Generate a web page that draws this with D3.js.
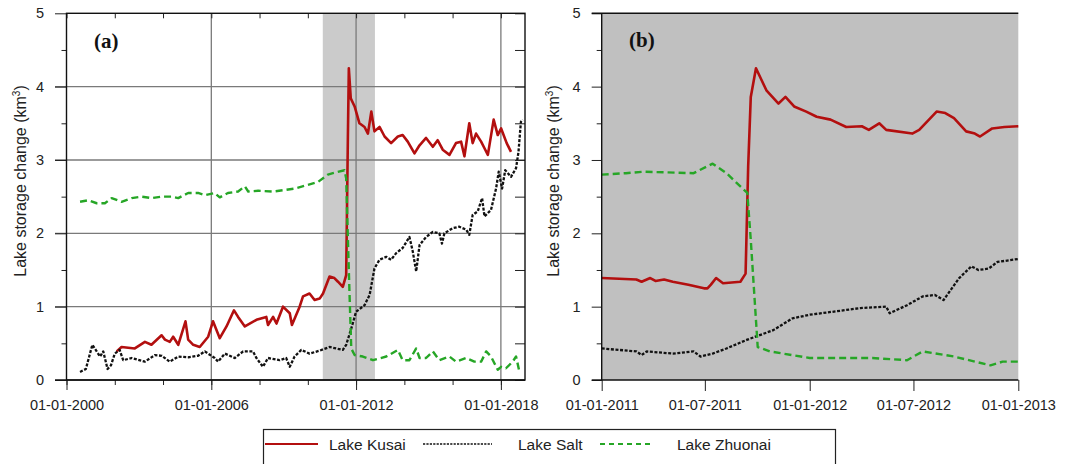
<html>
<head>
<meta charset="utf-8">
<title>Lake storage change</title>
<style>
  body { margin: 0; padding: 0; background: #ffffff; font-family: "Liberation Sans", Arial, sans-serif; }
  .tick text { font-size: 14.5px; fill: #222; font-family: "Liberation Sans", Arial, sans-serif; }
  .tick line { stroke: #222; }
  .ytitle { font-size: 16px; fill: #222; }
  .plabel { font-family: "Liberation Serif", "Times New Roman", serif; font-weight: bold; font-size: 21px; fill: #111; }
  .legend text { font-size: 15.5px; fill: #222; }
</style>
</head>
<body>
<svg id="chart" width="1077" height="464"></svg>
<script src="https://cdnjs.cloudflare.com/ajax/libs/d3/7.8.5/d3.min.js"></script>
<script>
// ---- data (decimal year, km3) ----
var kusaiA = [[2002.08,0.39],[2002.28,0.45],[2002.83,0.43],[2003.25,0.52],[2003.52,0.48],[2003.94,0.61],[2004.08,0.55],[2004.28,0.52],[2004.42,0.59],[2004.63,0.48],[2004.93,0.80],[2005.04,0.55],[2005.25,0.48],[2005.52,0.45],[2005.87,0.59],[2006.07,0.80],[2006.35,0.57],[2006.63,0.73],[2006.94,0.95],[2007.11,0.86],[2007.39,0.73],[2007.87,0.82],[2008.28,0.86],[2008.35,0.75],[2008.56,0.86],[2008.70,0.77],[2008.97,1.00],[2009.25,0.91],[2009.34,0.75],[2009.66,1.00],[2009.80,1.14],[2010.07,1.18],[2010.28,1.09],[2010.49,1.11],[2010.63,1.18],[2010.90,1.41],[2011.10,1.39],[2011.25,1.34],[2011.45,1.27],[2011.59,1.43],[2011.66,3.30],[2011.70,4.25],[2011.78,3.84],[2011.94,3.73],[2012.14,3.50],[2012.35,3.45],[2012.49,3.36],[2012.63,3.66],[2012.76,3.39],[2012.97,3.45],[2013.18,3.32],[2013.45,3.23],[2013.73,3.32],[2013.93,3.34],[2014.14,3.25],[2014.42,3.09],[2014.63,3.20],[2014.90,3.30],[2015.18,3.18],[2015.38,3.27],[2015.59,3.14],[2015.87,3.07],[2016.14,3.23],[2016.35,3.25],[2016.49,3.05],[2016.69,3.50],[2016.83,3.23],[2016.97,3.36],[2017.18,3.25],[2017.32,3.16],[2017.46,3.07],[2017.70,3.55],[2017.87,3.34],[2018.01,3.43],[2018.24,3.23],[2018.42,3.11]];

var saltA = [[2000.56,0.11],[2000.80,0.15],[2001.07,0.48],[2001.25,0.39],[2001.39,0.32],[2001.52,0.39],[2001.70,0.15],[2001.84,0.20],[2002.00,0.36],[2002.20,0.41],[2002.35,0.27],[2002.70,0.30],[2003.25,0.25],[2003.66,0.34],[2003.95,0.33],[2004.28,0.25],[2004.63,0.32],[2005.05,0.31],[2005.45,0.33],[2005.73,0.39],[2006.14,0.30],[2006.28,0.25],[2006.56,0.36],[2006.97,0.30],[2007.32,0.39],[2007.73,0.39],[2007.87,0.30],[2008.14,0.18],[2008.35,0.30],[2008.83,0.27],[2009.10,0.30],[2009.25,0.18],[2009.45,0.32],[2009.73,0.41],[2010.07,0.36],[2010.49,0.40],[2010.90,0.45],[2011.45,0.41],[2011.59,0.48],[2011.80,0.70],[2012.00,0.93],[2012.35,1.02],[2012.56,1.16],[2012.76,1.52],[2012.97,1.64],[2013.25,1.68],[2013.45,1.64],[2013.66,1.73],[2013.93,1.80],[2014.21,1.95],[2014.35,1.75],[2014.49,1.48],[2014.63,1.84],[2014.90,1.95],[2015.18,2.02],[2015.45,2.00],[2015.56,1.86],[2015.66,2.00],[2016.00,2.07],[2016.28,2.09],[2016.56,2.05],[2016.69,1.98],[2016.83,2.25],[2017.04,2.30],[2017.22,2.48],[2017.32,2.23],[2017.59,2.32],[2017.80,2.61],[2017.91,2.84],[2018.05,2.61],[2018.18,2.86],[2018.42,2.77],[2018.63,2.89],[2018.73,3.11],[2018.83,3.52],[2018.90,3.55]];

var zhuonaiA = [[2000.56,2.43],[2000.90,2.45],[2001.25,2.41],[2001.59,2.41],[2001.87,2.48],[2002.28,2.43],[2002.70,2.48],[2003.11,2.50],[2003.52,2.48],[2003.94,2.50],[2004.35,2.50],[2004.63,2.48],[2005.04,2.55],[2005.45,2.55],[2005.73,2.52],[2006.14,2.55],[2006.35,2.49],[2006.69,2.55],[2007.11,2.57],[2007.39,2.64],[2007.53,2.57],[2007.94,2.58],[2008.56,2.57],[2009.04,2.59],[2009.45,2.61],[2010.00,2.66],[2010.42,2.70],[2010.83,2.80],[2011.04,2.82],[2011.52,2.86],[2011.59,2.75],[2011.66,1.93],[2011.73,1.16],[2011.80,0.43],[2011.94,0.34],[2012.28,0.32],[2012.70,0.27],[2013.25,0.32],[2013.73,0.41],[2013.93,0.27],[2014.21,0.27],[2014.49,0.43],[2014.63,0.30],[2014.90,0.30],[2015.18,0.39],[2015.45,0.27],[2015.87,0.32],[2016.14,0.25],[2016.56,0.30],[2016.90,0.25],[2017.18,0.25],[2017.39,0.39],[2017.59,0.32],[2017.87,0.14],[2018.01,0.18],[2018.21,0.16],[2018.49,0.25],[2018.63,0.32],[2018.77,0.11]];

// panel (b): months after 01-01-2011, km3
var kusaiB = [[0,1.39],[2.0,1.37],[2.3,1.34],[2.8,1.39],[3.1,1.35],[3.6,1.37],[4.1,1.34],[5.0,1.30],[5.9,1.25],[6.1,1.25],[6.3,1.30],[6.6,1.39],[7.0,1.32],[8.0,1.34],[8.3,1.45],[8.45,2.91],[8.6,3.86],[8.9,4.25],[9.5,3.95],[10.2,3.77],[10.6,3.86],[11.1,3.73],[11.8,3.66],[12.4,3.59],[13.2,3.55],[14.1,3.45],[15.0,3.46],[15.4,3.41],[16.0,3.50],[16.4,3.41],[17.9,3.36],[18.3,3.41],[19.3,3.66],[19.8,3.64],[20.3,3.57],[21.0,3.39],[21.5,3.36],[21.8,3.32],[22.5,3.43],[23.2,3.45],[24,3.46]];
var saltB = [[0,0.43],[2.0,0.39],[2.3,0.34],[2.6,0.39],[4.1,0.36],[5.3,0.39],[5.7,0.32],[6.4,0.36],[7.2,0.43],[8.4,0.55],[9.9,0.68],[11.0,0.84],[12.0,0.89],[13.3,0.93],[14.9,0.98],[16.4,1.00],[16.6,0.91],[17.6,1.02],[18.5,1.14],[19.2,1.16],[19.7,1.09],[20.6,1.39],[21.3,1.55],[21.7,1.50],[22.3,1.52],[22.8,1.61],[24,1.65]];
var zhuonaiB = [[0,2.80],[1.4,2.82],[2.4,2.84],[5.3,2.82],[6.4,2.95],[7.2,2.82],[8.4,2.55],[8.6,1.91],[9.0,0.45],[9.7,0.39],[12.0,0.30],[15.6,0.30],[17.6,0.27],[18.5,0.39],[20.3,0.32],[22.4,0.20],[23.1,0.25],[24,0.25]];

var bandA = [2010.62, 2012.78];   // shaded period in (a)
var yMajor = [0, 1, 2, 3, 4, 5];
var yMinor = [0.5, 1.5, 2.5, 3.5, 4.5];
var seriesNames = ["Lake Kusai", "Lake Salt", "Lake Zhuonai"];

// ---- helpers ----
function yearToDate(y) {
  var yr = Math.floor(y), s = new Date(yr, 0, 1), e = new Date(yr + 1, 0, 1);
  return new Date(+s + (y - yr) * (e - s));
}
function monthToDate(m) { return yearToDate(2011 + m / 12); }

var styles = [
  { color: "#b30f0f", dash: null, width: 2.6 },
  { color: "#111111", dash: "3,1.6", width: 2.3 },
  { color: "#26a626", dash: "7,4", width: 2.4 }
];

var svg = d3.select("#chart");
var fmt = d3.timeFormat("%d-%m-%Y");

// ================= panel (a) =================
var xa = d3.scaleTime().domain([new Date(2000, 0, 1), new Date(2019, 0, 1)]).range([66.5, 525]);
var ya = d3.scaleLinear().domain([0, 5]).range([380, 13.3]);
var ga = svg.append("g");

ga.append("rect")
  .attr("x", xa(yearToDate(bandA[0]))).attr("y", ya(5))
  .attr("width", xa(yearToDate(bandA[1])) - xa(yearToDate(bandA[0])))
  .attr("height", ya(0) - ya(5))
  .attr("fill", "#cbcbcb");

// grid
ga.selectAll(".hg").data([1, 2, 3, 4]).enter().append("line")
  .attr("x1", 55).attr("x2", 525).attr("y1", d => ya(d)).attr("y2", d => ya(d))
  .attr("stroke", "#7a7a7a").attr("stroke-width", 1.3);
ga.selectAll(".vg").data([2006, 2012, 2018]).enter().append("line")
  .attr("x1", d => xa(new Date(d, 0, 1))).attr("x2", d => xa(new Date(d, 0, 1)))
  .attr("y1", ya(5)).attr("y2", ya(0))
  .attr("stroke", "#7a7a7a").attr("stroke-width", 1.3);

function drawLines(g, x, y, sets, toDate) {
  sets.forEach(function (data, i) {
    var st = styles[i];
    g.append("path")
      .datum(data)
      .attr("fill", "none")
      .attr("stroke", st.color)
      .attr("stroke-width", st.width)
      .attr("stroke-dasharray", st.dash)
      .attr("stroke-linejoin", "round")
      .attr("d", d3.line().x(d => x(toDate(d[0]))).y(d => y(d[1])));
  });
}
drawLines(ga, xa, ya, [kusaiA, saltA, zhuonaiA], yearToDate);

// axes
var yrs2 = d3.range(2000, 2019, 2).map(y => new Date(y, 0, 1));
var yrs6 = [2000, 2006, 2012, 2018].map(y => new Date(y, 0, 1));
ga.append("g").attr("transform", "translate(0,380)")
  .call(d3.axisBottom(xa).tickValues(yrs2).tickSize(5).tickFormat(""));
ga.append("g").attr("transform", "translate(0,380)")
  .call(d3.axisBottom(xa).tickValues(yrs6).tickSize(10).tickPadding(10).tickFormat(fmt));
ga.append("g").attr("transform", "translate(0,13.3)")
  .call(d3.axisBottom(xa).tickValues(yrs2).tickSize(5).tickFormat(""));
ga.append("g").attr("transform", "translate(66.5,0)")
  .call(d3.axisLeft(ya).tickValues(yMajor).tickSize(11.5).tickPadding(11).tickFormat(d3.format("d")));
ga.append("g").attr("transform", "translate(66.5,0)")
  .call(d3.axisLeft(ya).tickValues(yMinor).tickSize(5).tickFormat(""));
ga.append("g").attr("transform", "translate(525,0)")
  .call(d3.axisLeft(ya).tickValues(yMajor.concat(yMinor)).tickSize(10).tickFormat(""));
ga.selectAll(".domain").remove();

// frame
ga.append("rect").attr("x", 66.5).attr("y", 13.3).attr("width", 525 - 66.5).attr("height", 380 - 13.3)
  .attr("fill", "none").attr("stroke", "#111").attr("stroke-width", 1.4);
ga.append("line").attr("x1", 55).attr("x2", 525).attr("y1", 380).attr("y2", 380).attr("stroke", "#111").attr("stroke-width", 1.4);

ga.append("text").attr("class", "plabel").attr("x", 94).attr("y", 48).text("(a)");
var ta = ga.append("text").attr("class", "ytitle").attr("text-anchor", "middle")
  .attr("transform", "translate(26,181) rotate(-90)");
ta.append("tspan").text("Lake storage change (km");
ta.append("tspan").attr("dy", -6).attr("font-size", "10px").text("3");
ta.append("tspan").attr("dy", 6).text(")");

// ================= panel (b) =================
var xb = d3.scaleTime().domain([new Date(2011, 0, 1), new Date(2013, 0, 1)]).range([601.7, 1018.3]);
var yb = d3.scaleLinear().domain([0, 5]).range([380, 13.3]);
var gb = svg.append("g");

gb.append("rect").attr("x", 601.7).attr("y", 13.3).attr("width", 1018.3 - 601.7).attr("height", 380 - 13.3)
  .attr("fill", "#c0c0c0");

drawLines(gb, xb, yb, [kusaiB, saltB, zhuonaiB], monthToDate);

var halfYears = [0, 6, 12, 18, 24].map(m => d3.timeMonth.offset(new Date(2011, 0, 1), m));
gb.append("g").attr("transform", "translate(0,380)")
  .call(d3.axisBottom(xb).tickValues(halfYears).tickSize(11).tickPadding(9).tickFormat(fmt));
gb.append("g").attr("transform", "translate(601.7,0)")
  .call(d3.axisLeft(yb).tickValues(yMajor).tickSize(10).tickPadding(11).tickFormat(d3.format("d")));
gb.append("g").attr("transform", "translate(601.7,0)")
  .call(d3.axisLeft(yb).tickValues(yMinor).tickSize(5).tickFormat(""));
gb.selectAll(".domain").remove();

gb.append("path").attr("d", "M591.7,13.3H1018.3").attr("stroke", "#111").attr("stroke-width", 1.4);
gb.append("path").attr("d", "M601.7,13.3V380H1018.3").attr("fill", "none").attr("stroke", "#111").attr("stroke-width", 1.4);
gb.append("line").attr("x1", 591.7).attr("x2", 601.7).attr("y1", 380).attr("y2", 380).attr("stroke", "#111").attr("stroke-width", 1.4);

gb.append("text").attr("class", "plabel").attr("x", 629).attr("y", 47).text("(b)");
var tb = gb.append("text").attr("class", "ytitle").attr("text-anchor", "middle")
  .attr("transform", "translate(559,181) rotate(-90)");
tb.append("tspan").text("Lake storage change (km");
tb.append("tspan").attr("dy", -6).attr("font-size", "10px").text("3");
tb.append("tspan").attr("dy", 6).text(")");

// ================= legend =================
var lg = svg.append("g").attr("class", "legend");
lg.append("rect").attr("x", 263.5).attr("y", 429.5).attr("width", 572).attr("height", 50)
  .attr("fill", "#fff").attr("stroke", "#222").attr("stroke-width", 1.2);
var legendX = [[265, 318, 329], [423, 492, 518], [600, 652, 677]];
seriesNames.forEach(function (name, i) {
  var st = styles[i], p = legendX[i];
  lg.append("line").attr("x1", p[0]).attr("x2", p[1]).attr("y1", 444).attr("y2", 444)
    .attr("stroke", st.color).attr("stroke-width", i === 1 ? 1.6 : 2)
    .attr("stroke-dasharray", i === 1 ? "2.2,1.2" : (i === 2 ? "5,4" : null));
  lg.append("text").attr("x", p[2]).attr("y", 449.5).text(name);
});
</script>
</body>
</html>
